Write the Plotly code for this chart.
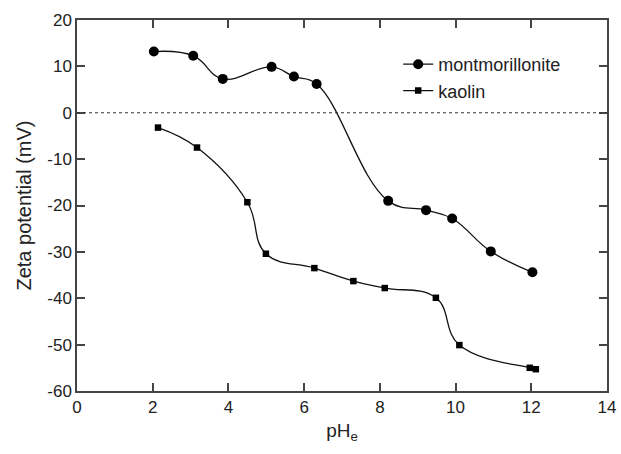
import plotly.graph_objects as go

mont_ph = [2.03, 3.07, 3.85, 5.14, 5.73, 6.33, 8.22, 9.22, 9.91, 10.93, 12.03]
mont_zeta = [13.2, 12.3, 7.3, 9.9, 7.8, 6.2, -19.0, -21.0, -22.8, -29.9, -34.4]

kaol_ph = [2.14, 3.17, 4.50, 4.99, 6.27, 7.30, 8.13, 9.48, 10.10, 11.96, 12.12]
kaol_zeta = [-3.2, -7.5, -19.3, -30.4, -33.5, -36.3, -37.8, -39.9, -50.1, -55.0, -55.3]

x_ticks = [0, 2, 4, 6, 8, 10, 12, 14]
y_ticks = [-60, -50, -40, -30, -20, -10, 0, 10, 20]
y_tick_labels = ["-60", "-50", "-40", "-30", "-20", "-10", "0", "10", "20"]

font = "Liberation Sans, Arial, Helvetica, sans-serif"

fig = go.Figure()
fig.add_trace(go.Scatter(
    x=mont_ph, y=mont_zeta, name="montmorillonite", mode="lines+markers",
    line=dict(color="#111", width=1.3, shape="spline", smoothing=1.2),
    marker=dict(symbol="circle", size=10, color="#000"),
))
fig.add_trace(go.Scatter(
    x=kaol_ph, y=kaol_zeta, name="kaolin", mode="lines+markers",
    line=dict(color="#111", width=1.3, shape="spline", smoothing=1.2),
    marker=dict(symbol="square", size=6.5, color="#000"),
))

fig.add_shape(type="line", xref="paper", x0=0, x1=1, yref="y", y0=0, y1=0,
              line=dict(color="#333", width=1, dash="dot"))

axis_common = dict(
    showgrid=False, zeroline=False, showline=True, linecolor="#444", linewidth=1.5,
    mirror="ticks", ticks="inside", ticklen=8, tickwidth=1.5, tickcolor="#444",
    tickfont=dict(family=font, size=17, color="#222"), automargin=False,
    ticklabeloverflow="allow",
)

fig.update_layout(
    width=621, height=454,
    margin=dict(l=77, r=14, t=20, b=63),
    paper_bgcolor="white", plot_bgcolor="white",
    font=dict(family=font, color="#222"),
    xaxis=dict(range=[0, 14], tickvals=x_ticks,
               title=dict(text="pH<sub>e</sub>", font=dict(family=font, size=19), standoff=8),
               **axis_common),
    yaxis=dict(range=[-60, 20], tickvals=y_ticks, ticktext=y_tick_labels,
               title=dict(text="Zeta potential (mV)", font=dict(family=font, size=20), standoff=10),
               **axis_common),
    legend=dict(x=0.606, y=0.93, xanchor="left", yanchor="top",
                font=dict(family=font, size=18, color="#222"),
                bgcolor="rgba(0,0,0,0)", tracegroupgap=0),
    showlegend=True,
)

# remove the page's default body margin so the 621x454 figure fills the window exactly
fig.write_html("out.html",
               config={"displayModeBar": False},
               post_script="document.body.style.margin='0';document.body.style.overflow='hidden';")
